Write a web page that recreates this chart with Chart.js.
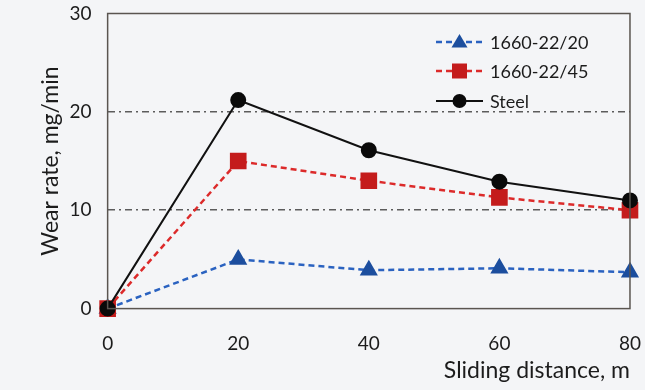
<!DOCTYPE html>
<html>
<head>
<meta charset="utf-8">
<script src="https://cdn.jsdelivr.net/npm/chart.js@4.4.0/dist/chart.umd.min.js"></script>
<style>
  html, body { margin: 0; padding: 0; background: #f4f5f7; }
  #wrap { width: 645px; height: 390px; position: relative; }
</style>
</head>
<body>
<div id="wrap"><canvas id="chart"></canvas></div>
<script>
// values
const distances = [0, 20, 40, 60, 80];
const wear2220 = [0, 5.0, 3.9, 4.1, 3.7];
const wear2245 = [0, 15.0, 13.0, 11.3, 10.0];
const wearSteel = [0, 21.2, 16.1, 12.9, 11.0];
const seriesNames = ['1660-22/20', '1660-22/45', 'Steel'];
const yTicks = [0, 10, 20, 30];

const toPoints = (vals) => vals.map((v, i) => ({ x: distances[i], y: v }));

const textColor = '#1c1c1c';
const fontFamily = 'Lato, "Open Sans", sans-serif';

// box around the plot and the legend inside it
const framePlugin = {
  id: 'frame',
  afterDraw(chart) {
    const { ctx, chartArea } = chart;
    ctx.save();
    ctx.strokeStyle = '#5a5550';
    ctx.lineWidth = 1.5;
    ctx.strokeRect(chartArea.left, chartArea.top, chartArea.right - chartArea.left, chartArea.bottom - chartArea.top);
    ctx.restore();

    // legend
    const x0 = 436, x1 = 483;
    const rows = [42, 71, 101];
    chart.data.datasets.forEach((ds, i) => {
      const y = rows[i];
      ctx.save();
      ctx.strokeStyle = ds.borderColor;
      ctx.lineWidth = ds.borderWidth;
      ctx.setLineDash(ds.borderDash || []);
      ctx.beginPath();
      ctx.moveTo(x0, y);
      ctx.lineTo(x1, y);
      ctx.stroke();
      ctx.setLineDash([]);
      ctx.fillStyle = ds.pointBackgroundColor;
      const r = ds.pointRadius;
      const cx = (x0 + x1) / 2;
      ctx.beginPath();
      if (ds.pointStyle === 'triangle') {
        ctx.moveTo(cx, y - r);
        ctx.lineTo(cx + r, y + r * 0.7);
        ctx.lineTo(cx - r, y + r * 0.7);
        ctx.closePath();
      } else if (ds.pointStyle === 'rect') {
        ctx.rect(cx - r * 0.75, y - r * 0.75, r * 1.5, r * 1.5);
      } else {
        ctx.arc(cx, y, r, 0, Math.PI * 2);
      }
      ctx.fill();
      ctx.fillStyle = textColor;
      ctx.font = '18px ' + fontFamily;
      ctx.textBaseline = 'middle';
      ctx.fillText(ds.label, 490, y + 1);
      ctx.restore();
    });
  }
};

new Chart(document.getElementById('chart'), {
  type: 'line',
  data: {
    datasets: [
      {
        label: seriesNames[0],
        data: toPoints(wear2220),
        borderColor: '#2a62c0',
        borderWidth: 2.5,
        borderDash: [6, 4],
        pointStyle: 'triangle',
        pointRadius: 8,
        pointBackgroundColor: '#1c4e9e',
        pointBorderColor: '#1c4e9e',
        order: 3,
      },
      {
        label: seriesNames[1],
        data: toPoints(wear2245),
        borderColor: '#dc2a2a',
        borderWidth: 2.5,
        borderDash: [6, 4],
        pointStyle: 'rect',
        pointRadius: 10,
        pointBackgroundColor: '#c41c1c',
        pointBorderColor: '#c41c1c',
        order: 2,
      },
      {
        label: seriesNames[2],
        data: toPoints(wearSteel),
        borderColor: '#111111',
        borderWidth: 2,
        pointStyle: 'circle',
        pointRadius: 7,
        pointBackgroundColor: '#0a0a0a',
        pointBorderColor: '#0a0a0a',
        order: 1,
      },
    ],
  },
  options: {
    responsive: true,
    maintainAspectRatio: false,
    animation: false,
    clip: false,
    layout: { autoPadding: false, padding: { top: 0, right: 0, left: 33, bottom: 6 } },
    plugins: {
      legend: { display: false },
      tooltip: { enabled: false },
    },
    scales: {
      x: {
        type: 'linear',
        min: 0,
        max: 80,
        ticks: {
          stepSize: 20,
          color: textColor,
          font: { size: 19, family: fontFamily },
          padding: 4,
        },
        grid: {
          color: 'rgba(0,0,0,0)',
          drawOnChartArea: false,
          drawTicks: true,
          tickLength: 20,
          tickColor: 'rgba(0,0,0,0)',
        },
        border: { display: false },
        title: {
          display: true,
          text: 'Sliding distance, m',
          align: 'end',
          color: textColor,
          font: { size: 23, family: fontFamily },
          padding: { top: -3, bottom: 0 },
        },
      },
      y: {
        min: 0,
        max: 30,
        ticks: {
          stepSize: 2,
          autoSkip: false,
          color: textColor,
          font: { size: 19, family: fontFamily, lineHeight: 1 },
          padding: 4,
          callback: (v) => (yTicks.includes(v) ? v : ''),
        },
        grid: {
          color: (c) => (c.tick && (c.tick.value === 10 || c.tick.value === 20) ? '#5c5c5c' : 'rgba(0,0,0,0)'),
          lineWidth: 1.5,
          drawTicks: true,
          tickLength: 12,
          tickColor: 'rgba(0,0,0,0)',
        },
        border: {
          display: false,
          dash: [7, 4, 2, 4],
        },
        title: {
          display: true,
          text: 'Wear rate, mg/min',
          color: textColor,
          font: { size: 23, family: fontFamily },
          padding: { bottom: 1 },
        },
      },
    },
  },
  plugins: [framePlugin],
});
</script>
</body>
</html>
